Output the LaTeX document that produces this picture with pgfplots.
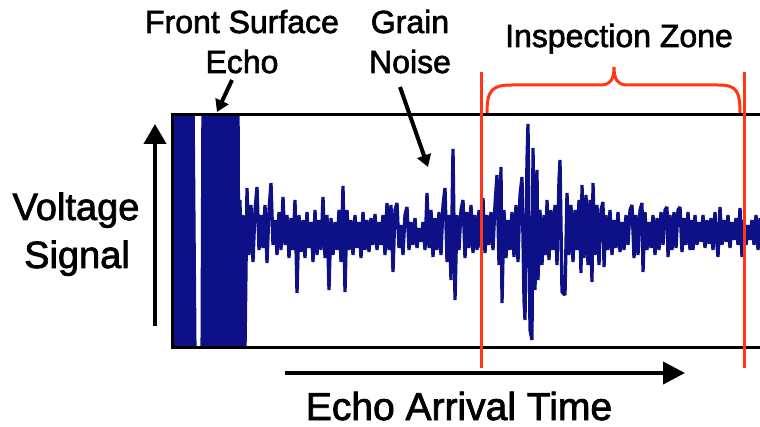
\documentclass[border=0pt]{standalone}
\usepackage{pgfplots}
\pgfplotsset{compat=1.18}
\usetikzlibrary{arrows.meta}
\usepackage{fontspec}
\setmainfont{Liberation Sans}
\newfontfamily\heavy{Liberation Sans}[FakeBold=2]
\definecolor{sigblue}{RGB}{14,16,135}
\definecolor{zonered}{RGB}{255,55,20}
\begin{document}
\begin{tikzpicture}
\begin{axis}[
  hide axis, scale only axis,
  width=587pt, height=232pt,
  xmin=173, xmax=760, ymin=115, ymax=347,
  y dir=reverse,
  clip mode=individual,
]
\coordinate (BL) at (axis cs:0,427);
\coordinate (TR) at (axis cs:760,0);
% signal
\addplot[sigblue, line width=3.3pt, line join=bevel] coordinates {
(173,100)(175,360)(177,100)(179,360)(181,100)(183,360)(185,100)(187,360)(189,100)(191,360)(193,100)(195,360)(196,380)(202,380)
(203,100)(205,360)(207,100)(209,360)(211,100)(213,360)(215,100)(217,360)(219,100)(221,360)(222,100)(224,360)(226,100)(228,360)(230,100)(232,360)(234,100)(236,360)(238,100)(239,360)
(240,200)(242,347)(243,215)(245,350)
(247,188)(249,255)(251,205)(253,262)(255,210)(257,187)(259,250)(261,215)(263,248)(265,205)(267,263)(269,210)(271,183)(273,245)(275,220)(277,255)(279,212)(281,250)(283,197)(285,245)(287,215)(289,258)(291,218)(293,250)(295,200)(297,293)(299,215)(301,252)(303,220)(305,258)(307,212)(309,248)(311,222)(313,262)(315,210)(317,255)(319,220)(321,250)(323,197)(325,258)(327,215)(329,290)(331,218)(333,255)(335,222)(337,250)(339,210)(341,262)(343,186)(345,292)(347,210)(349,250)(351,220)(353,255)(355,215)(357,248)(359,222)(361,258)(363,212)(365,250)(367,220)(369,252)(371,218)(373,245)(375,214)(377,250)(379,222)(381,245)(383,215)(385,255)(387,203)(389,250)(391,205)(393,272)(395,210)(397,203)(399,248)(401,225)(403,255)(405,215)(407,207)(409,250)(411,222)(413,245)(415,218)(417,248)(419,228)(421,242)(423,222)(425,250)(427,193)(429,248)(431,210)(433,257)(435,218)(437,250)(439,212)(441,255)(443,205)(445,188)(447,262)(449,215)(451,280)(453,149)(455,300)(457,215)(459,250)(461,210)(463,200)(465,258)(467,212)(469,248)(471,205)(473,253)(475,215)(477,250)(479,210)(481,248)(483,198)(485,253)(487,215)(489,245)(491,212)(493,250)(495,205)(497,175)(499,265)(501,167)(502,303)(504,210)(506,258)(508,220)(510,250)(512,212)(514,257)(516,205)(518,262)(520,195)(522,177)(524,300)(525,320)(527,160)(528,124)(530,330)(532,340)(533,148)(535,290)(537,170)(538,280)(540,210)(542,265)(544,215)(546,255)(547,200)(549,260)(551,210)(553,250)(555,205)(557,265)(559,180)(560,160)(562,292)(565,295)(567,193)(569,255)(571,205)(573,262)(575,210)(577,250)(579,200)(581,273)(582,185)(584,258)(586,195)(588,265)(590,200)(592,282)(593,183)(595,255)(597,205)(599,265)(601,210)(603,202)(604,267)(606,215)(608,250)(610,210)(612,255)(614,220)(616,248)(618,212)(620,252)(622,222)(624,250)(626,215)(628,245)(630,210)(632,205)(634,258)(636,215)(638,255)(640,210)(642,203)(643,272)(645,212)(647,250)(649,222)(651,248)(653,215)(655,255)(657,218)(659,250)(661,212)(663,245)(665,210)(667,207)(668,257)(670,215)(672,250)(674,212)(676,248)(678,210)(680,207)(682,252)(684,218)(686,245)(688,212)(690,250)(692,220)(693,250)(695,215)(697,245)(699,222)(701,242)(703,215)(705,248)(707,220)(709,244)(711,218)(713,250)(715,212)(717,245)(718,257)(720,207)(722,245)(724,220)(726,242)(728,215)(730,248)(732,222)(734,240)(736,218)(738,245)(740,208)(742,257)(744,220)(746,245)(748,225)(750,240)(752,220)(754,245)(756,215)(758,250)(760,218)
};
% box
\draw[black, line width=3pt] (axis cs:762,115) -- (axis cs:173,115) -- (axis cs:173,347) -- (axis cs:762,347);
% inspection zone
\draw[zonered, line width=3pt] (axis cs:481,72) -- (axis cs:481,368);
\draw[zonered, line width=3pt] (axis cs:744,72) -- (axis cs:744,368);
\draw[zonered, line width=3pt] (axis cs:487,113) .. controls (axis cs:487,90) and (axis cs:492,85) .. (axis cs:512,85)
  -- (axis cs:600,85) .. controls (axis cs:610,85) and (axis cs:614,80) .. (axis cs:614,67)
  .. controls (axis cs:614,80) and (axis cs:618,85) .. (axis cs:628,85)
  -- (axis cs:718,85) .. controls (axis cs:736,85) and (axis cs:740,90) .. (axis cs:740,113);
% arrows
\draw[black, line width=4pt, -{Triangle[length=20pt,width=22pt]}] (axis cs:155,326) -- (axis cs:155,124);
\draw[black, line width=4pt, -{Triangle[length=22pt,width=22pt]}] (axis cs:285,373) -- (axis cs:685,373);
\draw[black, line width=4pt, -{Triangle[length=12pt,width=14pt]}] (axis cs:232,80) -- (axis cs:217,112);
\draw[black, line width=4pt, -{Triangle[length=12pt,width=14pt]}] (axis cs:400,87) -- (axis cs:428,167);
% texts
\node[anchor=base, inner sep=0pt, font=\heavy\fontsize{32}{38}\selectfont] at (axis cs:242,33) {Front Surface};
\node[anchor=base, inner sep=0pt, font=\heavy\fontsize{32}{38}\selectfont] at (axis cs:242,73) {Echo};
\node[anchor=base, inner sep=0pt, font=\heavy\fontsize{32}{38}\selectfont] at (axis cs:410,33) {Grain};
\node[anchor=base, inner sep=0pt, font=\heavy\fontsize{32}{38}\selectfont] at (axis cs:410,73) {Noise};
\node[anchor=base, inner sep=0pt, font=\heavy\fontsize{32}{38}\selectfont] at (axis cs:619,47) {Inspection Zone};
\node[anchor=base, inner sep=0pt, font=\heavy\fontsize{38}{44}\selectfont] at (axis cs:76,220) {Voltage};
\node[anchor=base, inner sep=0pt, font=\heavy\fontsize{38}{44}\selectfont] at (axis cs:77,268) {Signal};
\node[anchor=base, inner sep=0pt, font=\heavy\fontsize{39}{44}\selectfont] at (axis cs:459,420) {Echo Arrival Time};
\end{axis}
\pgfresetboundingbox
\path[use as bounding box] (BL) rectangle (TR);
\end{tikzpicture}
\end{document}
